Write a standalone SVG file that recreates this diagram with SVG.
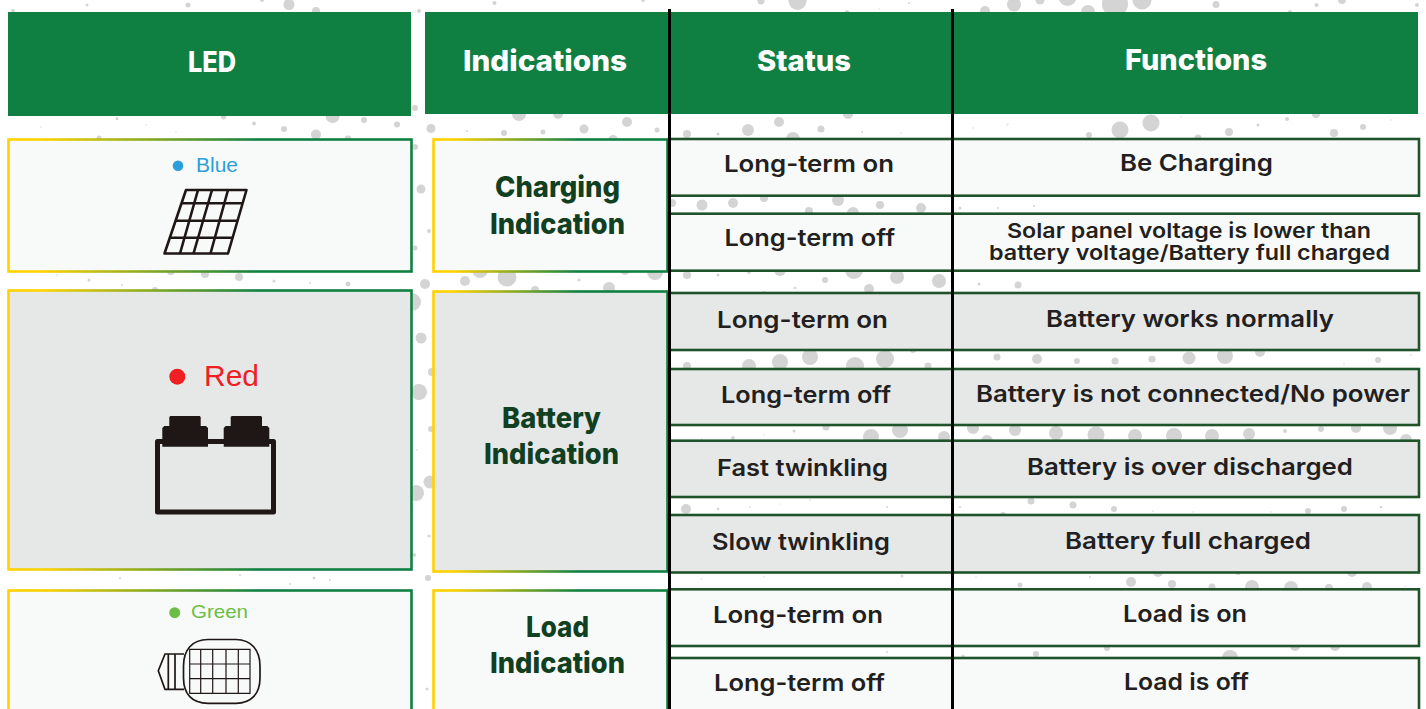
<svg xmlns="http://www.w3.org/2000/svg" width="1426" height="709" viewBox="0 0 1426 709">
<style>
text{font-family:"Inter","Liberation Sans",sans-serif}
.dots circle{fill:#d4d4d4}
.hd{fill:#0f8042}
.hdt{fill:#fff;font-size:29px;font-weight:800}
.ind{fill:#103f22;font-size:29px;font-weight:800}
.st{fill:#231f20;font-size:23.5px;font-weight:600}
.fn{fill:#231f20;font-size:23.5px;font-weight:600}
.fs{fill:#231f20;font-size:20.5px;font-weight:600}
.led{font-family:"Liberation Sans",Arial,sans-serif}
.box{stroke:url(#edge);stroke-width:2.6}
.row{stroke:#1f5329;stroke-width:2.6}
.lt{fill:#f8fafa}
.gr{fill:#e6e8e8}
.ink{fill:none;stroke:#1e1715}
.blk{fill:#1e1715}
</style>
<defs>
<linearGradient id="edge" x1="0" y1="0" x2="1" y2="0">
<stop offset="0.08" stop-color="#ffd200"/>
<stop offset="0.62" stop-color="#0f8042"/>
</linearGradient>
</defs>
<g id="background" class="dots">
<circle cx="87" cy="5" r="1.5"/><circle cx="188" cy="5" r="2.5"/><circle cx="289" cy="4.5" r="5.5"/><circle cx="316" cy="11" r="4"/><circle cx="262" cy="0" r="2"/><circle cx="13" cy="11" r="2"/><circle cx="419" cy="11" r="2"/><circle cx="494.5" cy="3" r="2"/><circle cx="643" cy="0" r="2"/>
<circle cx="761" cy="1" r="3.5"/><circle cx="797.5" cy="1" r="9"/><circle cx="847" cy="12" r="2"/><circle cx="985" cy="11" r="5"/><circle cx="1014" cy="4.5" r="7"/><circle cx="1040" cy="0" r="4.5"/><circle cx="1067.5" cy="-3" r="9"/><circle cx="1088" cy="12" r="7"/><circle cx="1115" cy="4" r="13"/><circle cx="1142" cy="0" r="9.5"/><circle cx="1216" cy="4.5" r="3.5"/><circle cx="1290" cy="12" r="2"/><circle cx="1316.5" cy="5" r="2"/><circle cx="1342" cy="0" r="4"/><circle cx="1417" cy="5" r="2"/><circle cx="909" cy="3" r="1"/><circle cx="879" cy="9" r=".7"/>
<circle cx="117" cy="118.5" r="1.5"/><circle cx="223.5" cy="117" r="2.5"/><circle cx="254" cy="123.5" r="2"/><circle cx="284" cy="129" r="3"/><circle cx="316" cy="134.5" r="5"/><circle cx="332.6" cy="116" r="7"/><circle cx="364" cy="120" r="3"/><circle cx="397" cy="124.5" r="3"/><circle cx="348" cy="139" r="3.5"/><circle cx="99" cy="138" r="2.5"/><circle cx="41" cy="127" r=".7"/><circle cx="146" cy="125" r=".7"/><circle cx="176" cy="132" r=".7"/><circle cx="431" cy="128.5" r="4.5"/><circle cx="467" cy="131" r="1"/><circle cx="504" cy="133" r="3"/><circle cx="543" cy="132" r="2.5"/><circle cx="584" cy="129" r="4.5"/><circle cx="627" cy="122" r="5"/><circle cx="657" cy="130" r="2.5"/><circle cx="519" cy="114" r="7"/><circle cx="558" cy="114" r="5"/><circle cx="613" cy="140" r="5"/><circle cx="415" cy="108" r="3"/>
<circle cx="687" cy="134" r="4"/><circle cx="718" cy="134" r="1.5"/><circle cx="748" cy="130" r="6"/><circle cx="779" cy="122" r="5"/><circle cx="821" cy="129" r="3.5"/><circle cx="793" cy="139" r="7"/><circle cx="862" cy="132" r="1"/><circle cx="901" cy="133" r=".7"/><circle cx="848" cy="114" r="5"/><circle cx="973" cy="128" r=".7"/><circle cx="1008" cy="124" r=".7"/>
<circle cx="672" cy="203" r="4"/><circle cx="702" cy="205" r="5.5"/><circle cx="733" cy="203" r="5"/><circle cx="764" cy="198" r="4"/><circle cx="809" cy="211" r="4"/><circle cx="838" cy="200" r="6"/><circle cx="880" cy="205" r="4"/><circle cx="921" cy="208" r="5"/><circle cx="960" cy="208" r="1.5"/><circle cx="998" cy="208" r="1"/><circle cx="1034" cy="206" r="1"/><circle cx="853" cy="213" r="6"/>
<circle cx="655" cy="272" r="8"/><circle cx="687" cy="275" r="4"/><circle cx="718" cy="275" r="1.5"/><circle cx="749" cy="272" r="2"/><circle cx="780" cy="270" r="6"/><circle cx="825" cy="280" r="3"/><circle cx="854" cy="270" r="9"/><circle cx="897" cy="277" r="7"/><circle cx="939" cy="281" r="7"/><circle cx="795" cy="288" r="1.3"/><circle cx="869" cy="289" r="5"/><circle cx="764" cy="293" r="2"/><circle cx="979" cy="284" r="1.5"/><circle cx="1018" cy="285" r="3.5"/>
<circle cx="1120" cy="130" r="8.5"/><circle cx="1151" cy="123" r="8.5"/><circle cx="1089" cy="135" r="3"/><circle cx="1198" cy="138" r="3.5"/><circle cx="1229" cy="132" r="4"/><circle cx="1258" cy="125" r="1.5"/><circle cx="1287" cy="119" r="2"/><circle cx="1316" cy="114" r="4"/><circle cx="1334" cy="133" r="4"/><circle cx="1363" cy="127" r="3"/><circle cx="1181" cy="117" r=".7"/><circle cx="1007" cy="125" r=".7"/><circle cx="1391" cy="120" r=".7"/>
<circle cx="687" cy="366" r="4"/><circle cx="749" cy="366" r="7"/><circle cx="780" cy="362" r="8"/><circle cx="810" cy="357" r="8"/><circle cx="855" cy="366" r="9"/><circle cx="885" cy="359" r="9"/><circle cx="928" cy="366" r="3.5"/><circle cx="997" cy="357" r="3.5"/><circle cx="1037" cy="359" r="5"/><circle cx="1077" cy="361" r="3"/><circle cx="1115" cy="361" r="3.5"/><circle cx="1152" cy="359" r="3.5"/><circle cx="1189" cy="358" r="6.5"/><circle cx="1225" cy="356" r="8"/><circle cx="1260" cy="352" r="5"/><circle cx="1344" cy="364" r=".8"/><circle cx="1378" cy="360" r="3"/><circle cx="1411" cy="355" r=".8"/><circle cx="913" cy="350" r="3"/>
<circle cx="794" cy="431" r="1.5"/><circle cx="826" cy="427" r="3.5"/><circle cx="733" cy="438" r="2"/><circle cx="701.5" cy="439" r=".7"/><circle cx="764" cy="435" r=".7"/><circle cx="871" cy="437" r="8"/><circle cx="900" cy="430" r="8"/><circle cx="944" cy="437" r="6"/><circle cx="973" cy="428" r="6"/><circle cx="987" cy="441" r="6"/><circle cx="1015" cy="430" r="6"/><circle cx="1056" cy="433" r="7"/><circle cx="1096" cy="435" r="8.5"/><circle cx="1135" cy="436" r="7"/><circle cx="1174" cy="436" r="8"/><circle cx="1212" cy="436" r="7"/><circle cx="1249" cy="434" r="6"/><circle cx="1285" cy="431" r="2"/><circle cx="1321" cy="429" r="3"/><circle cx="1356" cy="428" r="5"/><circle cx="1390" cy="428" r="7"/><circle cx="1406" cy="440" r="6"/>
<circle cx="686" cy="509" r="5"/><circle cx="718" cy="509" r="1.3"/><circle cx="750" cy="507" r=".8"/><circle cx="780" cy="504" r=".5"/><circle cx="810" cy="500" r=".8"/><circle cx="887" cy="507" r="1"/><circle cx="960" cy="507" r="1"/><circle cx="1031" cy="501" r="3.5"/><circle cx="1073" cy="505" r="3.5"/><circle cx="1114" cy="509" r="3"/><circle cx="1153" cy="511" r=".8"/><circle cx="1193" cy="512" r=".7"/><circle cx="1271" cy="512" r=".7"/><circle cx="1308" cy="511" r="3"/><circle cx="1344" cy="509" r="3"/><circle cx="1381" cy="507" r="1.3"/><circle cx="1003" cy="515" r="3"/>
<circle cx="701.5" cy="579" r=".7"/><circle cx="764" cy="577" r=".7"/><circle cx="902" cy="576" r="1.5"/><circle cx="976" cy="577" r=".7"/><circle cx="1020" cy="585" r="2.5"/><circle cx="1090" cy="577" r="1"/><circle cx="1131" cy="582" r="5"/><circle cx="1172" cy="584" r="4"/><circle cx="1212" cy="587" r="3.5"/><circle cx="1252" cy="587" r="7"/><circle cx="1291" cy="588" r="7"/><circle cx="1329" cy="588" r="4"/><circle cx="1367" cy="587" r="5"/><circle cx="1158" cy="572" r="5"/><circle cx="1238" cy="572" r="3"/><circle cx="1352" cy="572" r="5"/><circle cx="1405" cy="586" r=".7"/>
<circle cx="887" cy="652" r="1"/><circle cx="963" cy="656" r="1.5"/><circle cx="1036" cy="654" r="3"/><circle cx="1107" cy="648" r="3"/><circle cx="1230" cy="658" r="8"/><circle cx="1295" cy="646" r="5"/><circle cx="1335" cy="646" r="5"/>
<circle cx="415" cy="147" r="3"/><circle cx="421" cy="189" r="4.5"/><circle cx="429" cy="231" r="2"/><circle cx="415" cy="248" r="2.5"/><circle cx="425" cy="284" r="5"/><circle cx="412" cy="302" r="9"/><circle cx="421" cy="338" r="5.5"/><circle cx="432" cy="372" r="4"/><circle cx="419" cy="392" r="8"/><circle cx="431" cy="429" r="3"/><circle cx="417" cy="450" r=".8"/><circle cx="430" cy="482" r="6.5"/><circle cx="416" cy="493" r="8"/><circle cx="429" cy="536" r="1.5"/><circle cx="414" cy="555" r="2"/><circle cx="428" cy="578" r="3"/><circle cx="427" cy="689" r="1.5"/>
<circle cx="57" cy="275" r=".8"/><circle cx="89" cy="280" r="1.5"/><circle cx="122" cy="285" r="1"/><circle cx="155" cy="290" r="3"/><circle cx="171" cy="271" r="4"/><circle cx="205" cy="274" r="4"/><circle cx="239" cy="277" r="4"/><circle cx="274" cy="281" r="1.5"/><circle cx="310" cy="283" r="1"/><circle cx="348" cy="284" r="2.5"/>
<circle cx="480" cy="270" r="8"/><circle cx="465" cy="281" r="5"/><circle cx="507" cy="277" r="9.5"/><circle cx="535" cy="290" r="4"/><circle cx="579" cy="280" r="1.5"/><circle cx="609" cy="288" r="6"/><circle cx="625" cy="270" r="5"/>
<circle cx="314" cy="578" r="1.5"/><circle cx="240" cy="575" r="1"/><circle cx="290" cy="584" r="1"/><circle cx="330" cy="580" r="1"/><circle cx="120" cy="578" r="1"/>
</g>
<g id="header-led"><rect class="hd" x="8" y="12" width="403" height="104"/><text class="hdt" x="188" y="72" textLength="48" lengthAdjust="spacingAndGlyphs">LED</text></g>
<g id="header-indications"><rect class="hd" x="425" y="12" width="245" height="102"/><text class="hdt" x="463" y="71" textLength="164" lengthAdjust="spacingAndGlyphs">Indications</text></g>
<g id="header-status"><rect class="hd" x="670" y="12" width="283" height="102"/><text class="hdt" x="757" y="71" textLength="94" lengthAdjust="spacingAndGlyphs">Status</text></g>
<g id="header-functions"><rect class="hd" x="953" y="12" width="465" height="102"/><text class="hdt" x="1125" y="70" textLength="142" lengthAdjust="spacingAndGlyphs">Functions</text></g>

<g id="led-blue">
<rect class="box lt" x="8.5" y="139.5" width="403" height="132"/>
<circle cx="178" cy="165.7" r="5.3" fill="#2a9fdc"/>
<text class="led" x="196" y="171.5" font-size="20" fill="#2a9fdc" textLength="42" lengthAdjust="spacingAndGlyphs">Blue</text>
<g class="ink" stroke-width="2.6">
<path d="M186 190H246.5L228 253.5H164.5Z" stroke-linejoin="round"/>
<path d="M181.5 203.3H242.6M175.6 220.7H237.6M169.9 237.7H232.6"/>
<path d="M198 190L180 253.5M212 190L193.5 253.5M228 190L210.5 253.5"/>
</g>
</g>
<g id="led-red">
<rect class="box gr" x="8.5" y="290.5" width="403" height="279"/>
<circle cx="177.3" cy="376.7" r="8" fill="#ee2024"/>
<text class="led" x="204" y="386" font-size="30" fill="#ee2024" textLength="55" lengthAdjust="spacingAndGlyphs">Red</text>
<rect class="ink" x="157.5" y="441.5" width="116" height="70.5" stroke-width="5" stroke-linejoin="round"/>
<path class="blk" d="M170.3 416H199.7L200.7 417V426H206L208 428V446.7H162.3V428L164.3 426H169.3V417ZM231.7 416H261L262 417V426H267.3L269.3 428V446.7H223.7V428L225.7 426H230.7V417Z"/>
</g>
<g id="led-green">
<rect class="box lt" x="8.5" y="590.5" width="403" height="130"/>
<circle cx="174.7" cy="612.7" r="5.5" fill="#6cbd45"/>
<text class="led" x="191" y="618" font-size="19" fill="#6cbd45" textLength="57" lengthAdjust="spacingAndGlyphs">Green</text>
<g class="ink" stroke-width="1.7">
<path d="M208 639.5H236C251 639.5 260 650 260 666V678C260 694 251 703.3 236 703.3H208C192 703.3 183.5 694 183.5 678V666C183.5 650 192 639.5 208 639.5Z"/>
<path stroke-width="1.2" d="M189.7 649.3H250V693.3H189.7ZM189.7 664H250M189.7 678.7H250M200.7 649.3V693.3M212.7 649.3V693.3M226 649.3V693.3M238.3 649.3V693.3"/>
<path d="M184 654H165L158.3 670.7L165 689.3H184M168.3 654V689.3M175 654V689.3"/>
</g>
</g>

<g id="ind-charging"><rect class="box lt" x="433.5" y="139.5" width="234" height="132"/>
<text class="ind" x="495" y="197" textLength="125" lengthAdjust="spacingAndGlyphs">Charging</text>
<text class="ind" x="490" y="234" textLength="135" lengthAdjust="spacingAndGlyphs">Indication</text></g>
<g id="ind-battery"><rect class="box gr" x="433.5" y="291.5" width="234" height="280"/>
<text class="ind" x="502" y="427.5" textLength="99" lengthAdjust="spacingAndGlyphs">Battery</text>
<text class="ind" x="484" y="464" textLength="135" lengthAdjust="spacingAndGlyphs">Indication</text></g>
<g id="ind-load"><rect class="box lt" x="433.5" y="590.5" width="234" height="130"/>
<text class="ind" x="526" y="636.5" textLength="63" lengthAdjust="spacingAndGlyphs">Load</text>
<text class="ind" x="490" y="673" textLength="135" lengthAdjust="spacingAndGlyphs">Indication</text></g>

<g id="row-1"><rect class="row lt" x="669" y="139" width="750" height="56.7"/>
<text class="st" x="724" y="172" textLength="170" lengthAdjust="spacingAndGlyphs">Long-term on</text>
<text class="fn" x="1120" y="171" textLength="153" lengthAdjust="spacingAndGlyphs">Be Charging</text></g>
<g id="row-2"><rect class="row lt" x="669" y="213.7" width="750" height="57"/>
<text class="st" x="724.5" y="246" textLength="170.5" lengthAdjust="spacingAndGlyphs">Long-term off</text>
<text class="fs" x="1007" y="238" textLength="364" lengthAdjust="spacingAndGlyphs">Solar panel voltage is lower than</text>
<text class="fs" x="989" y="260" textLength="401" lengthAdjust="spacingAndGlyphs">battery voltage/Battery full charged</text></g>
<g id="row-3"><rect class="row gr" x="669" y="293" width="750" height="57"/>
<text class="st" x="717" y="328" textLength="171" lengthAdjust="spacingAndGlyphs">Long-term on</text>
<text class="fn" x="1046" y="327" textLength="288" lengthAdjust="spacingAndGlyphs">Battery works normally</text></g>
<g id="row-4"><rect class="row gr" x="669" y="369" width="750" height="56"/>
<text class="st" x="721" y="403" textLength="170" lengthAdjust="spacingAndGlyphs">Long-term off</text>
<text class="fn" x="976" y="402" textLength="434" lengthAdjust="spacingAndGlyphs">Battery is not connected/No power</text></g>
<g id="row-5"><rect class="row gr" x="669" y="440.7" width="750" height="56.3"/>
<text class="st" x="717" y="476" textLength="171" lengthAdjust="spacingAndGlyphs">Fast twinkling</text>
<text class="fn" x="1027" y="475" textLength="326" lengthAdjust="spacingAndGlyphs">Battery is over discharged</text></g>
<g id="row-6"><rect class="row gr" x="669" y="515" width="750" height="57.5"/>
<text class="st" x="712" y="550" textLength="178" lengthAdjust="spacingAndGlyphs">Slow twinkling</text>
<text class="fn" x="1065" y="549" textLength="246" lengthAdjust="spacingAndGlyphs">Battery full charged</text></g>
<g id="row-7"><rect class="row lt" x="669" y="589.3" width="750" height="56.7"/>
<text class="st" x="713" y="623" textLength="170" lengthAdjust="spacingAndGlyphs">Long-term on</text>
<text class="fn" x="1123" y="622" textLength="124" lengthAdjust="spacingAndGlyphs">Load is on</text></g>
<g id="row-8"><rect class="row lt" x="669" y="658" width="750" height="60"/>
<text class="st" x="714" y="691" textLength="171" lengthAdjust="spacingAndGlyphs">Long-term off</text>
<text class="fn" x="1124" y="690" textLength="125" lengthAdjust="spacingAndGlyphs">Load is off</text></g>

<g id="connectors" stroke="#000" stroke-width="3">
<line x1="669.5" y1="9" x2="669.5" y2="709"/>
<line x1="952.5" y1="9" x2="952.5" y2="709"/>
</g>
</svg>
